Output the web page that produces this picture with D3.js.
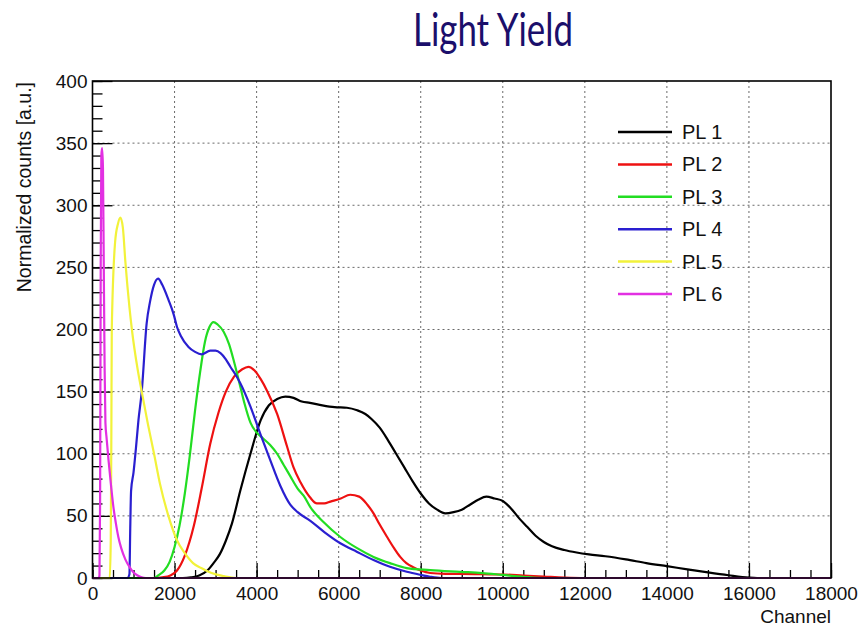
<!DOCTYPE html>
<html>
<head>
<meta charset="utf-8">
<script src="https://cdn.jsdelivr.net/npm/d3@7"></script>
<style>
    body { margin: 0; background: #fff; }
    text { font-family: "Liberation Sans", Arial, sans-serif; fill: #111; }
    .title { font-family: Lato, "Open Sans", sans-serif; fill: #1b0f6b; }
    .grid line { stroke: #6a6a6a; stroke-width: 1; stroke-dasharray: 2,3; }
    .curve { fill: none; stroke-width: 2.2; stroke-linejoin: round; }
</style>
</head>
<body>
<div id="wrapper"></div>
<script>
// channel, normalized counts
const pl1 = [[0,0],[2200,0],[2400,0.5],[2600,2],[2800,6],[2950,12],[3100,19],[3250,30],[3400,44],[3600,70],[3850,100],[4100,127],[4300,139],[4500,144],[4700,146],[4900,145],[5100,142],[5300,141],[5600,139],[5900,137.5],[6200,137],[6450,135],[6650,132],[6800,128],[7000,121],[7200,111],[7400,100],[7600,89],[7800,78],[8000,68],[8200,60],[8400,55],[8600,52],[8800,53],[9000,55],[9200,59],[9400,63],[9600,65.5],[9800,64],[10000,62],[10200,56],[10400,48],[10600,41],[10800,34],[11000,29],[11200,25.5],[11500,22.5],[11800,20.5],[12100,19],[12500,17.5],[13000,15],[13500,12],[14000,9.5],[14500,7],[15000,4.5],[15500,2.2],[16000,0.3],[16200,0],[18000,0]];
const pl2 = [[0,0],[1500,0],[1700,0.5],[1900,2],[2060,6],[2250,18],[2470,42],[2660,72],[2870,108],[3070,133],[3250,150],[3450,162],[3650,168],[3800,170],[3950,167],[4100,160],[4250,151],[4500,132],[4740,106],[4900,89],[5070,77],[5300,65],[5470,60],[5650,60],[5800,61.5],[6050,64],[6280,67],[6500,65.5],[6700,59],[6850,52],[7000,43],[7180,33],[7350,24],[7500,17],[7650,12],[7830,8.5],[8000,6],[8230,4],[8600,3.3],[9000,3.2],[9500,3],[10000,2.8],[10500,2],[11000,1.2],[11500,0.4],[12000,0],[18000,0]];
const pl3 = [[0,0],[1500,0],[1600,2],[1750,6],[1880,13],[2000,25],[2120,42],[2250,68],[2370,98],[2500,135],[2620,165],[2740,190],[2850,202],[2950,206],[3050,204],[3200,198],[3330,188],[3450,174],[3580,157],[3700,141],[3850,125],[4000,117],[4100,114],[4330,107],[4500,100],[4660,91],[4820,82],[5000,72],[5150,66],[5310,57],[5630,45],[6040,33],[6450,24],[6850,17],[7250,12],[7660,8],[8230,6.4],[8960,5],[9500,4],[10000,2.5],[10500,1],[11000,0],[18000,0]];
const pl4 = [[0,0],[850,0],[900,3],[920,40],[940,70],[1000,85],[1060,105],[1120,127],[1200,150],[1320,205],[1400,222],[1500,236],[1600,241],[1700,236],[1850,224],[1980,212],[2060,202],[2150,195],[2340,186],[2500,182],[2660,180],[2870,183],[3000,183],[3120,181],[3250,176],[3360,170],[3480,164],[3600,157],[3850,138],[4090,116],[4330,95],[4580,74],[4820,59],[5000,53],[5310,46],[5650,37],[6040,28],[6450,21],[6850,14.5],[7250,9],[7660,5],[8000,2.5],[8230,1],[8500,0],[18000,0]];
const pl5 = [[0,0],[420,0],[445,30],[460,120],[470,200],[550,270],[620,285],[680,290],[740,282],[800,255],[900,218],[960,200],[1100,168],[1200,150],[1350,124],[1500,100],[1650,75],[1850,50],[2050,31],[2250,20],[2450,12],[2650,8],[2900,4],[3200,1.5],[3500,0],[18000,0]];
const pl6 = [[0,0],[150,0],[170,2],[185,60],[200,250],[215,340],[235,346],[255,330],[275,250],[295,170],[315,125],[345,112],[390,95],[450,75],[510,57],[570,44],[630,33],[700,24],[800,15],[920,8],[1000,4.5],[1100,2],[1200,0.5],[1300,0],[18000,0]];

const seriesNames = ["PL 1", "PL 2", "PL 3", "PL 4", "PL 5", "PL 6"];
const seriesColors = ["#000000", "#ee1111", "#22dd22", "#2a1fd0", "#f2f23a", "#e230e2"];
const xTicks = [0, 2000, 4000, 6000, 8000, 10000, 12000, 14000, 16000, 18000];
const yTicks = [0, 50, 100, 150, 200, 250, 300, 350, 400];

const seriesData = [pl1, pl2, pl3, pl4, pl5, pl6];

const dimensions = {
    width: 858,
    height: 627,
    margin: {
        top: 81,
        right: 27,
        bottom: 49,
        left: 92.5,
    },
}

dimensions.boundedWidth = dimensions.width - dimensions.margin.left - dimensions.margin.right;
dimensions.boundedHeight = dimensions.height - dimensions.margin.top - dimensions.margin.bottom;

const wrapper = d3.select("#wrapper")
    .append("svg")
    .attr("width", dimensions.width)
    .attr("height", dimensions.height);

wrapper.append("text")
    .attr("class", "title")
    .attr("x", 493)
    .attr("y", 46)
    .attr("text-anchor", "middle")
    .attr("font-size", 46)
    .attr("textLength", 160)
    .attr("lengthAdjust", "spacingAndGlyphs")
    .text("Light Yield");

const bounds = wrapper.append("g")
    .attr("transform", `translate(${dimensions.margin.left},${dimensions.margin.top})`);

const xScale = d3.scaleLinear()
    .domain([0, 18000])
    .range([0, dimensions.boundedWidth]);

const yScale = d3.scaleLinear()
    .domain([0, 400])
    .range([dimensions.boundedHeight, 0]);

// dotted grid at the labelled ticks
const grid = bounds.append("g").attr("class", "grid");
grid.selectAll(".gx")
    .data(xTicks.slice(1, -1))
    .enter()
    .append("line")
    .attr("x1", d => xScale(d))
    .attr("x2", d => xScale(d))
    .attr("y1", 0)
    .attr("y2", dimensions.boundedHeight);
grid.selectAll(".gy")
    .data(yTicks.slice(1, -1))
    .enter()
    .append("line")
    .attr("x1", 0)
    .attr("x2", dimensions.boundedWidth)
    .attr("y1", d => yScale(d))
    .attr("y2", d => yScale(d));

// minor ticks, pointing into the frame
bounds.append("g")
    .attr("transform", `translate(0,${dimensions.boundedHeight})`)
    .call(d3.axisBottom(xScale).ticks(36).tickSize(-8).tickSizeOuter(0).tickFormat(""))
    .call(g => g.select(".domain").remove());
bounds.append("g")
    .call(d3.axisLeft(yScale).ticks(40).tickSize(-10).tickSizeOuter(0).tickFormat(""))
    .call(g => g.select(".domain").remove());

const xAxis = bounds.append("g")
    .attr("transform", `translate(0,${dimensions.boundedHeight})`)
    .call(d3.axisBottom(xScale).tickValues(xTicks).tickFormat(d3.format("d")).tickSize(-15).tickSizeOuter(0).tickPadding(9));
xAxis.select(".domain").remove();

const yAxis = bounds.append("g")
    .call(d3.axisLeft(yScale).tickValues(yTicks).tickFormat(d3.format("d")).tickSize(-20).tickSizeOuter(0).tickPadding(5));
yAxis.select(".domain").remove();

bounds.selectAll(".tick text")
    .attr("font-size", 19)
    .attr("font-family", "Liberation Sans, Arial, sans-serif")
    .attr("fill", "#111");
bounds.selectAll(".tick line")
    .attr("stroke", "#000")
    .attr("stroke-width", 1.3);

const line = d3.line()
    .x(d => xScale(d[0]))
    .y(d => yScale(d[1]))
    .curve(d3.curveMonotoneX);

bounds.selectAll(".curve")
    .data(seriesData)
    .enter()
    .append("path")
    .attr("class", "curve")
    .attr("stroke", (d, i) => seriesColors[i])
    .attr("d", line);

bounds.append("rect")
    .attr("width", dimensions.boundedWidth)
    .attr("height", dimensions.boundedHeight)
    .attr("fill", "none")
    .attr("stroke", "#000")
    .attr("stroke-width", 1.6);

// axis titles
wrapper.append("text")
    .attr("x", 831)
    .attr("y", 623)
    .attr("text-anchor", "end")
    .attr("font-size", 19)
    .text("Channel");

wrapper.append("text")
    .attr("transform", "translate(31,82) rotate(-90)")
    .attr("text-anchor", "end")
    .attr("font-size", 19.5)
    .text("Normalized counts [a.u.]");

// legend
const legend = wrapper.append("g")
    .attr("transform", "translate(618,132)");

const legendRows = legend.selectAll(".row")
    .data(seriesNames)
    .enter()
    .append("g")
    .attr("transform", (d, i) => `translate(0,${i * 32.4})`);

legendRows.append("line")
    .attr("x1", 0)
    .attr("x2", 54)
    .attr("stroke", (d, i) => seriesColors[i])
    .attr("stroke-width", 2.5);

legendRows.append("text")
    .attr("x", 64)
    .attr("y", 7)
    .attr("font-size", 20)
    .text(d => d);
</script>
</body>
</html>
